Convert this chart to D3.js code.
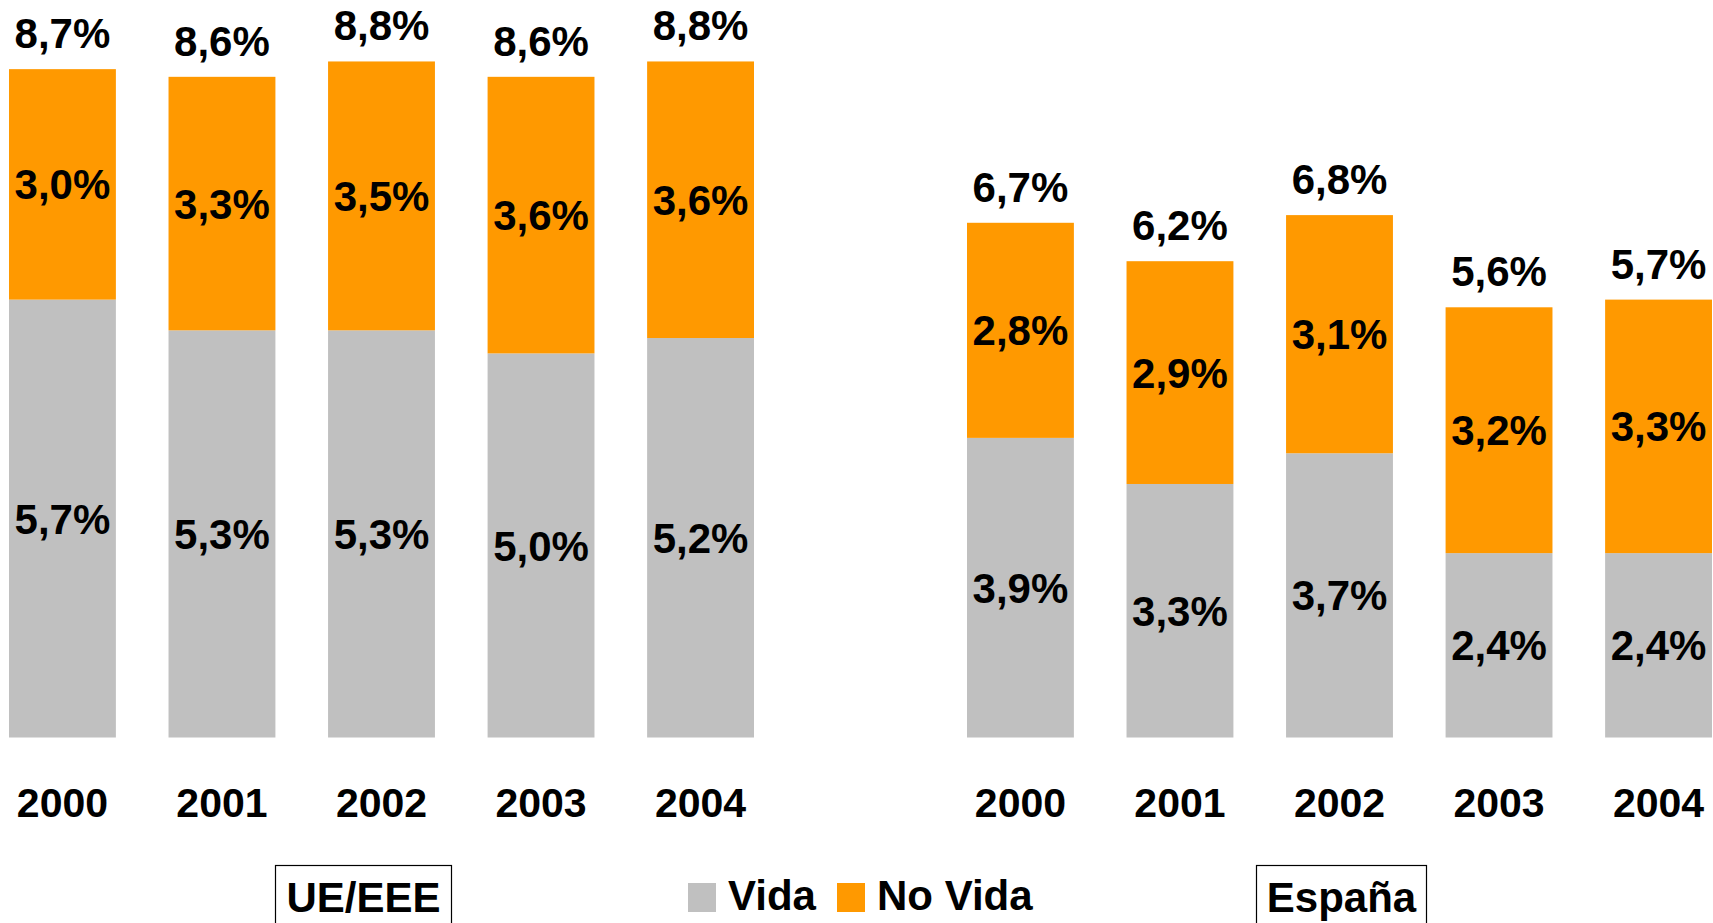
<html>
<script src="https://d3js.org/d3.v7.min.js"></script>
<style>
  body { margin: 0; background: white; }
  text { font-family: "Liberation Sans", Arial, sans-serif; font-weight: bold; fill: black; }
</style>
<body>
<svg width="1713" height="923"></svg>
<script>
// data
var years = ["2000", "2001", "2002", "2003", "2004"];
var ueVida = [5.7, 5.3, 5.3, 5.0, 5.2];
var ueNoVida = [3.0, 3.3, 3.5, 3.6, 3.6];
var ueTotal = [8.7, 8.6, 8.8, 8.6, 8.8];
var esVida = [3.9, 3.3, 3.7, 2.4, 2.4];
var esNoVida = [2.8, 2.9, 3.1, 3.2, 3.3];
var esTotal = [6.7, 6.2, 6.8, 5.6, 5.7];
var seriesNames = ["Vida", "No Vida"];

var color = d3.scaleOrdinal().domain(seriesNames).range(["#c0c0c0", "#ff9900"]);
var fmt = function(v) { return d3.format(".1f")(v).replace(".", ",") + "%"; };

var svg = d3.select("svg");
var y = d3.scaleLinear().domain([0, 9.6]).range([737.5, 0]);

function panel(range, vida, noVida, total, name, boxX, boxW) {
  var x = d3.scaleBand().domain(years).range(range).paddingInner(0.33).paddingOuter(0);
  var rows = years.map(function(yr, i) {
    return { year: yr, vida: vida[i], noVida: noVida[i], total: total[i] };
  });
  var stack = d3.stack().keys(["vida", "noVida"])(rows);
  var g = svg.append("g");

  stack.forEach(function(layer, li) {
    g.selectAll(null).data(layer).enter().append("rect")
      .attr("x", d => x(d.data.year))
      .attr("width", x.bandwidth())
      .attr("y", d => y(d[1]))
      .attr("height", d => y(d[0]) - y(d[1]))
      .style("fill", color(seriesNames[li]));
    // segment labels
    g.selectAll(null).data(layer).enter().append("text")
      .attr("x", d => x(d.data.year) + x.bandwidth() / 2)
      .attr("y", d => (y(d[0]) + y(d[1])) / 2)
      .attr("dy", "0.36em")
      .attr("text-anchor", "middle")
      .style("font-size", "42px")
      .text(d => fmt(d[1] - d[0]));
  });

  // totals
  g.selectAll(null).data(rows).enter().append("text")
    .attr("x", d => x(d.year) + x.bandwidth() / 2)
    .attr("y", d => y(d.total) - 21)
    .attr("text-anchor", "middle")
    .style("font-size", "42px")
    .text(d => fmt(d.total));

  // year labels
  var axis = svg.append("g")
    .attr("transform", "translate(0,737.5)")
    .call(d3.axisBottom(x).tickSize(0).tickPadding(50));
  axis.select(".domain").remove();
  axis.selectAll("text")
    .style("font-size", "41px")
    .style("font-family", "'Liberation Sans', Arial, sans-serif")
    .style("font-weight", "bold")
    .attr("fill", "black");

  // name box
  svg.append("rect")
    .attr("x", boxX).attr("y", 865.5)
    .attr("width", boxW).attr("height", 80)
    .style("fill", "none").style("stroke", "black").style("stroke-width", 1.2);
  svg.append("text")
    .attr("x", boxX + boxW / 2).attr("y", 912)
    .attr("text-anchor", "middle")
    .style("font-size", "42px")
    .text(name);
}

panel([9, 754], ueVida, ueNoVida, ueTotal, "UE/EEE", 275.5, 176);
panel([967, 1712], esVida, esNoVida, esTotal, "España", 1256.5, 170);

// legend
var legendX = [688, 837];
seriesNames.forEach(function(s, i) {
  svg.append("rect")
    .attr("x", legendX[i]).attr("y", 883)
    .attr("width", 28).attr("height", 29)
    .style("fill", color(s));
  svg.append("text")
    .attr("x", legendX[i] + 40).attr("y", 910)
    .style("font-size", "42px")
    .text(s);
});
</script>
</body>
</html>
